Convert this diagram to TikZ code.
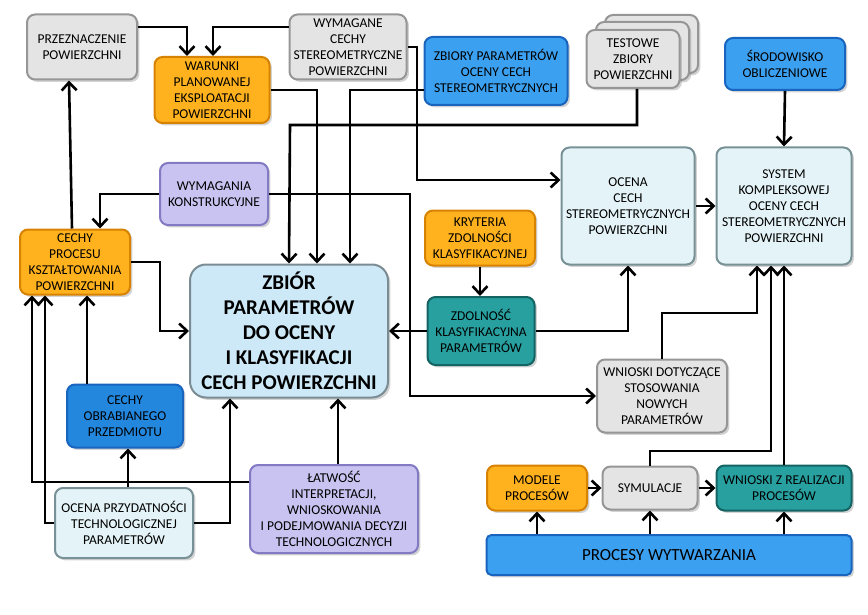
\documentclass[tikz,border=0pt]{standalone}
\usepackage{fontspec}
\setmainfont{Carlito}
\usetikzlibrary{arrows.meta,shadows}
\definecolor{grayf}{RGB}{228,228,228}
\definecolor{grayd}{RGB}{150,150,150}
\definecolor{orangef}{RGB}{255,178,30}
\definecolor{oranged}{RGB}{215,130,0}
\definecolor{bluef}{RGB}{60,160,240}
\definecolor{blued}{RGB}{25,100,190}
\definecolor{dbluef}{RGB}{35,135,222}
\definecolor{lavf}{RGB}{200,195,240}
\definecolor{lavd}{RGB}{130,122,195}
\definecolor{palef}{RGB}{228,243,247}
\definecolor{paled}{RGB}{120,145,150}
\definecolor{skyf}{RGB}{205,233,247}
\definecolor{tealf}{RGB}{40,160,160}
\definecolor{teald}{RGB}{20,100,100}

\tikzset{
  box/.style={rounded corners=8pt, line width=2pt, align=center, font=\fontsize{13.5}{16}\selectfont, drop shadow={opacity=0.35}},
  graybox/.style={box, draw=grayd, fill=grayf},
  orangebox/.style={box, draw=oranged, fill=orangef},
  bluebox/.style={box, draw=blued, fill=bluef},
  lavbox/.style={box, draw=lavd, fill=lavf},
  palebox/.style={box, draw=paled, fill=palef},
  tealbox/.style={box, draw=teald, fill=tealf},
  sz/.style 2 args={minimum width=#1pt, minimum height=#2pt, inner sep=1pt},
  arr/.style={line width=2.6pt, -{Straight Barb[length=8pt,width=15pt,line width=2.6pt]}}
}

\begin{document}
\begin{tikzpicture}[x=1pt,y=-1pt]
  \useasboundingbox (0,0) rectangle (868,615);
  % top row
  \node[graybox, sz={110}{65}] (prz) at (82,47) {PRZEZNACZENIE\\POWIERZCHNI};
  \node[orangebox, sz={115}{66}] (war) at (212,90) {WARUNKI\\PLANOWANEJ\\EKSPLOATACJI\\POWIERZCHNI};
  \node[graybox, sz={117}{65}] (wymc) at (348,47) {WYMAGANE\\CECHY\\STEREOMETRYCZNE\\POWIERZCHNI};
  \node[bluebox, sz={143}{68}] (zbp) at (496,71) {ZBIORY PARAMETRÓW\\OCENY CECH\\STEREOMETRYCZNYCH};
  \draw[graybox, drop shadow={opacity=0}] (605,15) rectangle (698,73);
  \draw[graybox, drop shadow={opacity=0}] (596,22) rectangle (689,80);
  \node[graybox, sz={93}{58}] (test) at (633,59) {TESTOWE\\ZBIORY\\POWIERZCHNI};
  \node[bluebox, sz={120}{52}] (srod) at (785,64) {ŚRODOWISKO\\OBLICZENIOWE};
  % middle
  \node[palebox, sz={133}{117}] (ocena) at (628,206) {OCENA\\CECH\\STEREOMETRYCZNYCH\\POWIERZCHNI};
  \node[palebox, sz={135}{117}] (sys) at (784,206) {SYSTEM\\KOMPLEKSOWEJ\\OCENY CECH\\STEREOMETRYCZNYCH\\POWIERZCHNI};
  \node[lavbox, sz={108}{62}] (wymk) at (214,194) {WYMAGANIA\\KONSTRUKCYJNE};
  \node[orangebox, sz={110}{65}] (cpk) at (75,262) {CECHY\\PROCESU\\KSZTAŁTOWANIA\\POWIERZCHNI};
  \node[orangebox, sz={110}{55}] (kryt) at (480,238) {KRYTERIA\\ZDOLNOŚCI\\KLASYFIKACYJNEJ};
  \node[box, draw=skyf!60!black, fill=skyf, sz={198}{133}, rounded corners=16pt, font=\fontsize{21}{25}\selectfont\bfseries] (zbior) at (289,331) {ZBIÓR\\PARAMETRÓW\\DO OCENY\\I KLASYFIKACJI\\CECH POWIERZCHNI};
  \node[tealbox, sz={107}{68}] (zdol) at (481,331) {ZDOLNOŚĆ\\KLASYFIKACYJNA\\PARAMETRÓW};
  \node[graybox, sz={130}{73}] (wnd) at (662,396) {WNIOSKI DOTYCZĄCE\\STOSOWANIA\\NOWYCH\\PARAMETRÓW};
  % bottom
  \node[box, draw=blued, fill=dbluef, sz={116}{63}] (cop) at (125,416) {CECHY\\OBRABIANEGO\\PRZEDMIOTU};
  \node[palebox, sz={138}{70}] (opt) at (124,523) {OCENA PRZYDATNOŚCI\\TECHNOLOGICZNEJ\\PARAMETRÓW};
  \node[lavbox, sz={168}{88}] (lat) at (334,509) {ŁATWOŚĆ\\INTERPRETACJI,\\WNIOSKOWANIA\\I PODEJMOWANIA DECYZJI\\TECHNOLOGICZNYCH};
  \node[orangebox, sz={100}{45}] (mod) at (537,488) {MODELE\\PROCESÓW};
  \node[graybox, sz={95}{43}] (sym) at (650,488) {SYMULACJE};
  \node[tealbox, sz={135}{45}] (wrp) at (784,488) {WNIOSKI Z REALIZACJI\\PROCESÓW};
  \node[bluebox, sz={365}{40}, rounded corners=5pt, font=\fontsize{17}{20}\selectfont] (pw) at (669,555) {PROCESY WYTWARZANIA};
  % connectors
  \draw[arr] ([yshift=20pt]prz.east) -| ([xshift=-25pt]war.north);
  \draw[arr] ([yshift=20pt]wymc.west) -| ([xshift=1pt]war.north);
  \draw[arr] (war.east) -| ([xshift=28pt]zbior.north);
  \draw[arr] (wymc.east) -| (417,180) -- ([yshift=26pt]ocena.west);
  \draw[arr] ([yshift=-19pt]zbp.west) -| ([xshift=61pt]zbior.north);
  \draw[arr] ([xshift=4pt]test.south) |- (290,125) -- (zbior.north);
  \draw[arr] (srod.south) -- (sys.north);
  \draw[arr] (ocena.east) -- (sys.west);
  \draw[arr] (wymk.west) -| ([xshift=25pt]cpk.north);
  \draw[arr] (wymk.east) -| (410,300) |- (wnd.west);
  \draw[arr] (zdol.west) -- (zbior.east |- zdol.west);
  \draw[arr] (kryt.south) -- (kryt.south |- zdol.north);
  \draw[arr] (zdol.east) -| (ocena.south);
  \draw[arr] (wnd.north) |- (757,313) -- ([xshift=-27pt]sys.south);
  \draw[arr] (sym.north) |- (771,451) -- ([xshift=-13pt]sys.south);
  \draw[arr] (wrp.north) -- (wrp.north |- sys.south);
  \draw[arr] (cpk.east) -| (160,331) -- (zbior.west);
  \draw[arr] ([xshift=-3pt]cpk.north) -- ([xshift=-13pt]prz.south);
  \draw[arr] ([xshift=-38pt]cop.north) -- ([xshift=12pt]cpk.south);
  \draw[arr] ([xshift=4pt]opt.north) -- ([xshift=3pt]cop.south);
  \draw[arr] (opt.east) -| ([xshift=-59pt]zbior.south);
  \draw[arr] ([xshift=4pt]lat.north) -- ([xshift=49pt]zbior.south);
  \draw[arr] ([yshift=27pt]lat.west) -| ([xshift=-43pt]cpk.south);
  \draw[arr] (opt.west) -| ([xshift=-30pt]cpk.south);
  \draw[arr] (mod.east) -- (sym.west);
  \draw[arr] (sym.east) -- (wrp.west);
  \draw[arr] (mod.south |- pw.north) -- (mod.south);
  \draw[arr] (sym.south |- pw.north) -- (sym.south);
  \draw[arr] (wrp.south |- pw.north) -- (wrp.south);
\end{tikzpicture}
\end{document}
